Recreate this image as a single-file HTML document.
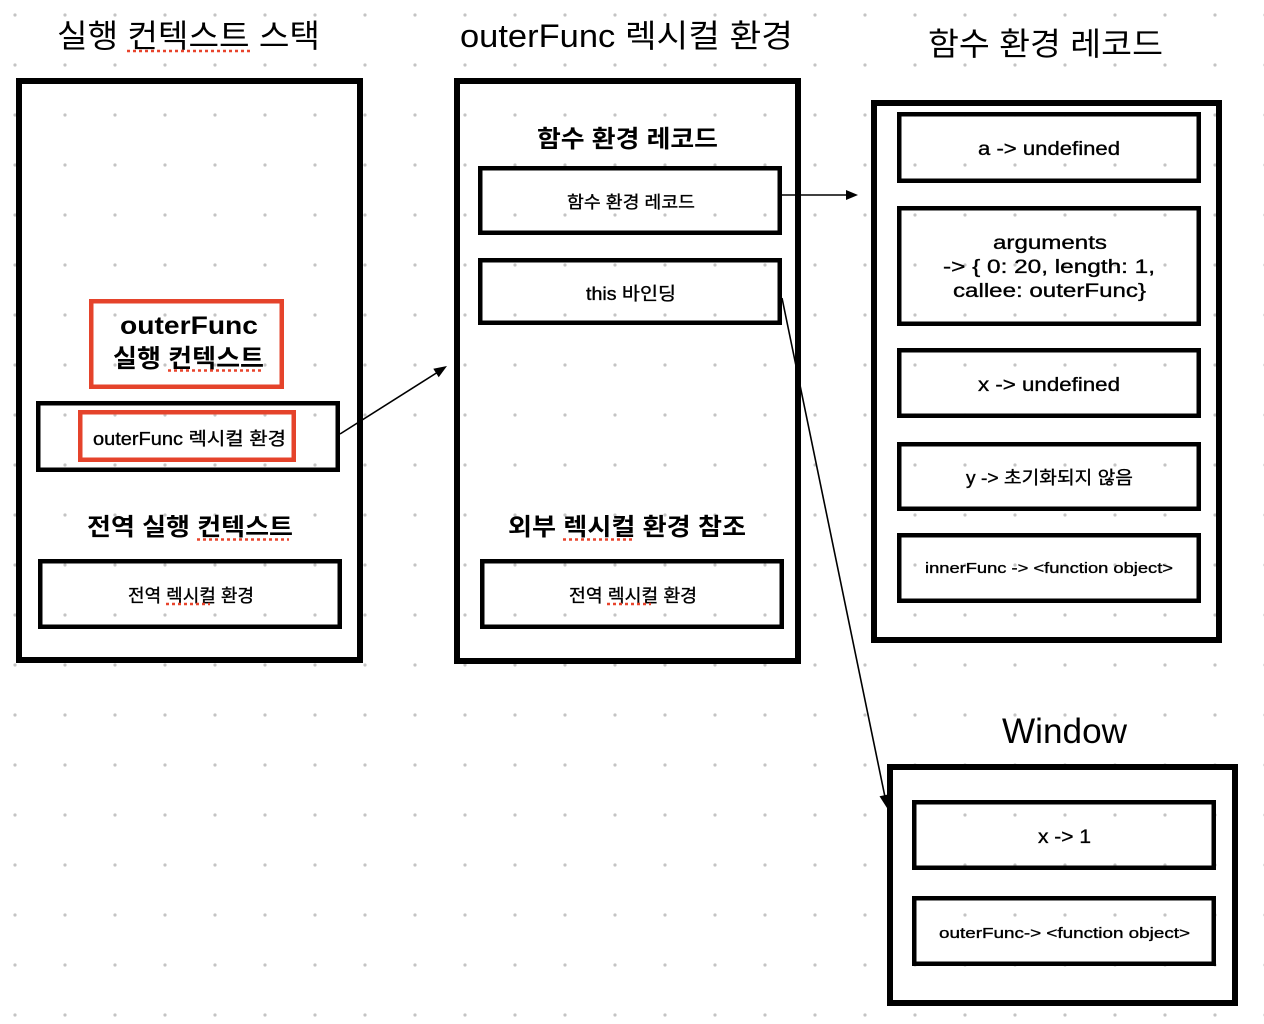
<!DOCTYPE html>
<html>
<head>
<meta charset="utf-8">
<style>
html,body{margin:0;padding:0;background:#fff;}
svg{display:block;}
text{font-family:"Liberation Sans","Noto Sans CJK KR",sans-serif;fill:#000;}
.b{font-weight:bold;}
.m{stroke:#000;stroke-width:0.35;}
</style>
</head>
<body>
<svg width="1264" height="1024" viewBox="0 0 1264 1024" xmlns="http://www.w3.org/2000/svg">
<defs>
<pattern id="dots" x="0" y="0" width="50" height="50" patternUnits="userSpaceOnUse">
<circle cx="15" cy="15" r="1.6" fill="#c4c4c4"/>
</pattern>
</defs>
<rect x="0" y="0" width="1264" height="1024" fill="#fff"/>
<rect x="0" y="0" width="1264" height="1024" fill="url(#dots)"/>

<!-- Titles -->
<text x="57" y="47" font-size="32" textLength="263" lengthAdjust="spacingAndGlyphs">실행 컨텍스트 스택</text>
<text x="460" y="47" font-size="32" textLength="333" lengthAdjust="spacingAndGlyphs">outerFunc 렉시컬 환경</text>
<text x="928" y="55" font-size="32" textLength="235" lengthAdjust="spacingAndGlyphs">함수 환경 레코드</text>
<text x="1002" y="743" font-size="35" textLength="125" lengthAdjust="spacingAndGlyphs">Window</text>

<!-- Left column -->
<rect x="19" y="81" width="341" height="579" fill="none" stroke="#000" stroke-width="6"/>
<rect x="91.25" y="301.25" width="190.5" height="85.5" fill="none" stroke="#e5432b" stroke-width="4.5"/>
<text class="b" x="120" y="334" font-size="25" textLength="138" lengthAdjust="spacingAndGlyphs">outerFunc</text>
<text class="b" x="113" y="367" font-size="25" textLength="151" lengthAdjust="spacingAndGlyphs">실행 컨텍스트</text>
<rect x="38.25" y="403.25" width="299.5" height="66.5" fill="none" stroke="#000" stroke-width="4.5"/>
<rect x="80.25" y="412.25" width="213.5" height="47.5" fill="none" stroke="#e5432b" stroke-width="4.5"/>
<text class="m" x="93" y="445" font-size="18" textLength="193" lengthAdjust="spacingAndGlyphs">outerFunc 렉시컬 환경</text>
<text class="b" x="87" y="535" font-size="24" textLength="206" lengthAdjust="spacingAndGlyphs">전역 실행 컨텍스트</text>
<rect x="40.25" y="561.25" width="299.5" height="65.5" fill="none" stroke="#000" stroke-width="4.5"/>
<text class="m" x="128" y="602" font-size="18" textLength="126" lengthAdjust="spacingAndGlyphs">전역 렉시컬 환경</text>

<!-- Center column -->
<rect x="457" y="81" width="341" height="580" fill="none" stroke="#000" stroke-width="6"/>
<text class="b" x="537" y="147" font-size="24" textLength="181" lengthAdjust="spacingAndGlyphs">함수 환경 레코드</text>
<rect x="480.25" y="168.25" width="299.5" height="64.5" fill="none" stroke="#000" stroke-width="4.5"/>
<text class="m" x="567" y="208" font-size="17" textLength="128" lengthAdjust="spacingAndGlyphs">함수 환경 레코드</text>
<rect x="480.25" y="260.25" width="299.5" height="62.5" fill="none" stroke="#000" stroke-width="4.5"/>
<text class="m" x="586" y="300" font-size="18" textLength="90" lengthAdjust="spacingAndGlyphs">this 바인딩</text>
<text class="b" x="508" y="535" font-size="24" textLength="238" lengthAdjust="spacingAndGlyphs">외부 렉시컬 환경 참조</text>
<rect x="482.25" y="561.25" width="299.5" height="65.5" fill="none" stroke="#000" stroke-width="4.5"/>
<text class="m" x="569" y="602" font-size="18" textLength="128" lengthAdjust="spacingAndGlyphs">전역 렉시컬 환경</text>

<!-- Right column -->
<rect x="874" y="103" width="345" height="537" fill="none" stroke="#000" stroke-width="6"/>
<rect x="899.25" y="114.25" width="299.5" height="66.5" fill="none" stroke="#000" stroke-width="4.5"/>
<text class="m" x="978" y="155" font-size="19" textLength="142" lengthAdjust="spacingAndGlyphs">a -&gt; undefined</text>
<rect x="899.25" y="208.25" width="299.5" height="115.5" fill="none" stroke="#000" stroke-width="4.5"/>
<text class="m" x="993" y="249" font-size="19" textLength="114" lengthAdjust="spacingAndGlyphs">arguments</text>
<text class="m" x="943" y="273" font-size="19" textLength="212" lengthAdjust="spacingAndGlyphs">-&gt; { 0: 20, length: 1,</text>
<text class="m" x="953" y="297" font-size="19" textLength="193" lengthAdjust="spacingAndGlyphs">callee: outerFunc}</text>
<rect x="899.25" y="350.25" width="299.5" height="65.5" fill="none" stroke="#000" stroke-width="4.5"/>
<text class="m" x="978" y="391" font-size="19" textLength="142" lengthAdjust="spacingAndGlyphs">x -&gt; undefined</text>
<rect x="899.25" y="444.25" width="299.5" height="64.5" fill="none" stroke="#000" stroke-width="4.5"/>
<text class="m" x="966" y="484" font-size="18" textLength="167" lengthAdjust="spacingAndGlyphs">y -&gt; 초기화되지 않음</text>
<rect x="899.25" y="535.25" width="299.5" height="65.5" fill="none" stroke="#000" stroke-width="4.5"/>
<text class="m" x="925" y="573" font-size="15" textLength="248" lengthAdjust="spacingAndGlyphs">innerFunc -&gt; &lt;function object&gt;</text>

<!-- Window -->
<rect x="890" y="767" width="345" height="236" fill="none" stroke="#000" stroke-width="6"/>
<rect x="914.25" y="802.25" width="299.5" height="65.5" fill="none" stroke="#000" stroke-width="4.5"/>
<text class="m" x="1038" y="843" font-size="19" textLength="53" lengthAdjust="spacingAndGlyphs">x -&gt; 1</text>
<rect x="914.25" y="898.25" width="299.5" height="65.5" fill="none" stroke="#000" stroke-width="4.5"/>
<text class="m" x="939" y="938" font-size="15" textLength="251" lengthAdjust="spacingAndGlyphs">outerFunc-&gt; &lt;function object&gt;</text>

<!-- Red dotted spell underlines -->
<g stroke="#e8442c" stroke-width="2.5" stroke-dasharray="3 3" fill="none">
<line x1="127" y1="51" x2="252" y2="51"/>
<line x1="168" y1="370.5" x2="263" y2="370.5"/>
<line x1="197" y1="539.5" x2="289" y2="539.5"/>
<line x1="166" y1="604" x2="210" y2="604"/>
<line x1="563" y1="539.5" x2="633" y2="539.5"/>
<line x1="607" y1="604" x2="651" y2="604"/>
</g>

<!-- Arrows -->
<g stroke="#000" stroke-width="1.6" fill="none">
<line x1="340" y1="434" x2="438" y2="372"/>
<line x1="782" y1="195" x2="848" y2="195"/>
<line x1="782" y1="298" x2="885" y2="797"/>
</g>
<g fill="#000">
<polygon points="447,366 438.7,377.2 433.3,368.8"/>
<polygon points="858,195 846,190 846,200"/>
<polygon points="887,808 889.3,794.3 879.5,796.3"/>
</g>
</svg>
</body>
</html>
